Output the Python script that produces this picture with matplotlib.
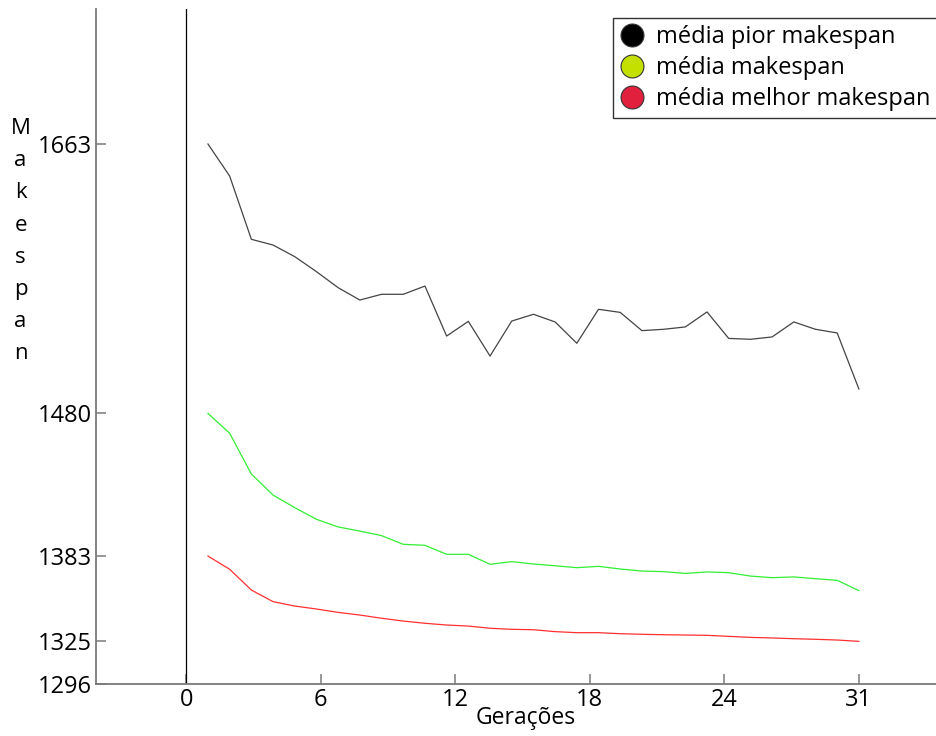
import matplotlib
matplotlib.use("Agg")
import matplotlib.pyplot as plt
from matplotlib.lines import Line2D
import numpy as np

geracoes = list(range(1, 32))

pior = [1663.2, 1641.4, 1598.4, 1594.5, 1586.6, 1576.4, 1565.5, 1557.1, 1561.0, 1561.0,
        1566.6, 1532.6, 1542.6, 1519.0, 1542.8, 1547.4, 1542.2, 1527.7, 1550.8, 1548.7,
        1536.3, 1537.2, 1538.8, 1549.0, 1531.0, 1530.4, 1532.0, 1542.2, 1537.2, 1534.7,
        1496.6]
media = [1480.0, 1466.5, 1438.8, 1424.5, 1415.9, 1408.0, 1402.8, 1400.0, 1396.9, 1391.0,
         1390.3, 1384.2, 1384.2, 1377.4, 1379.2, 1377.6, 1376.4, 1375.1, 1376.0, 1374.2,
         1372.8, 1372.4, 1371.2, 1372.2, 1371.7, 1369.4, 1368.3, 1368.8, 1367.6, 1366.5,
         1359.5]
melhor = [1383.0, 1374.0, 1359.9, 1352.0, 1349.0, 1347.0, 1344.7, 1342.9, 1340.7, 1338.8,
          1337.3, 1336.1, 1335.4, 1333.9, 1333.2, 1332.9, 1331.6, 1330.9, 1330.9, 1330.2,
          1329.8, 1329.5, 1329.3, 1329.1, 1328.4, 1327.7, 1327.3, 1326.8, 1326.4, 1325.9,
          1325.0]

y_ticks = [1296, 1325, 1383, 1480, 1663]
x_tick_labels = ["0", "6", "12", "18", "24", "31"]
legenda = ["média pior makespan", "média makespan", "média melhor makespan"]

plt.rcParams["font.family"] = ["Open Sans", "DejaVu Sans"]

fig = plt.figure(figsize=(9.37, 7.36), dpi=100)
ax = fig.add_axes([96 / 937, 52 / 736, 841 / 937, 675 / 736])

ax.plot(geracoes, pior, color="#444444", linewidth=0.9)
ax.plot(geracoes, media, color="#33ee33", linewidth=0.9)
ax.plot(geracoes, melhor, color="#ff3030", linewidth=0.9)
ax.axvline(0, color="black", linewidth=0.9)

ax.set_xlim(-4.16, 34.6)
ax.set_ylim(1296, 1755)

ax.set_xticks(np.linspace(0, 31, 6))
ax.set_xticklabels(x_tick_labels)
ax.set_yticks(y_ticks)
ax.set_yticklabels([str(v) for v in y_ticks])

for s in ["top", "right"]:
    ax.spines[s].set_visible(False)
for s in ["left", "bottom"]:
    ax.spines[s].set_color("#7a7a7a")
    ax.spines[s].set_linewidth(1.3)
ax.tick_params(direction="in", length=7, width=1.1, color="#7a7a7a",
               labelsize=17, pad=3)

# rótulos dos eixos
fig.text(526 / 937, 1 - 718 / 736, "Gerações", fontsize=16.5, ha="center", va="center")
fig.text(0.022, 1 - 118 / 736, "\n".join("Makespan"), fontsize=16, ha="center", va="top",
         linespacing=1.7)

cores = ["#000000", "#c4e000", "#e0203c"]
handles = [Line2D([], [], linestyle="none", marker="o", markersize=16.5,
                  markerfacecolor=c, markeredgecolor="#333333", markeredgewidth=0.8)
           for c in cores]
leg = ax.legend(handles, legenda, loc="upper right", bbox_to_anchor=(1.0, 0.987),
                fontsize=17, frameon=True, fancybox=False, handlelength=1.0,
                handletextpad=0.5, borderpad=0.3, labelspacing=0.3, borderaxespad=0)
leg.get_frame().set_edgecolor("black")
leg.get_frame().set_linewidth(1.0)

fig.savefig("out.png", dpi=100)
